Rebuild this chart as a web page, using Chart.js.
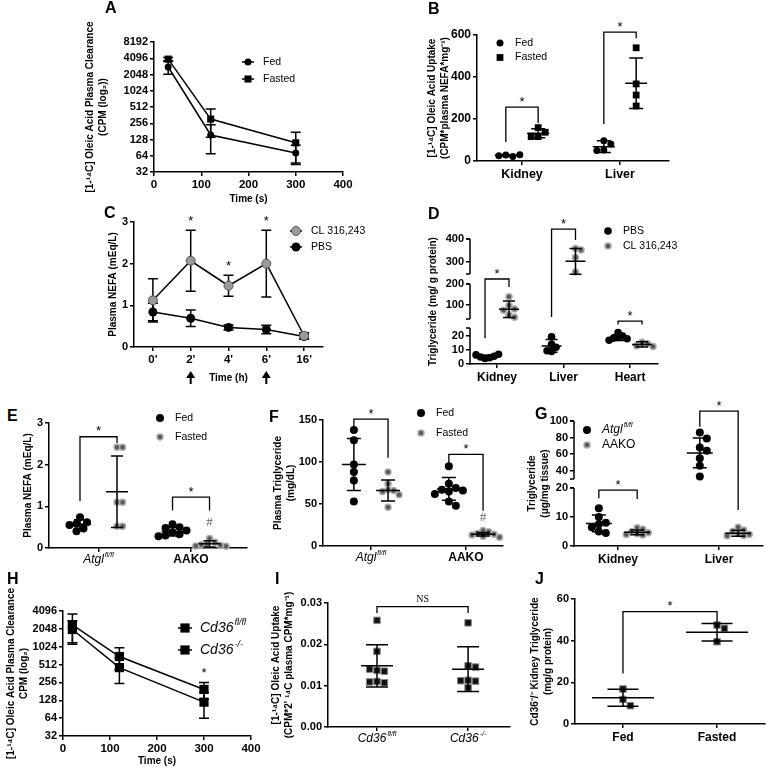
<!DOCTYPE html>
<html>
<head>
<meta charset="utf-8">
<title>Figure</title>
<script src="https://cdn.jsdelivr.net/npm/chart.js@4.4.1/dist/chart.umd.min.js"></script>
<style>
  body { margin: 0; background: #fff; }
  #fig { position: relative; width: 766px; height: 769px; overflow: hidden; }
  #fig canvas { position: absolute; }
  .letter { position: absolute; font: bold 16px/16px "Liberation Sans", Arial, sans-serif; color: #000; }
</style>
</head>
<body>
<div id="fig"></div>
<script>
const FONT = '"Liberation Sans", Arial, sans-serif';
const SERIF = '"Liberation Serif", "Times New Roman", serif';
Chart.defaults.font.family = FONT;

// ---------- A: oleic acid clearance, fed vs fasted ----------
const timeA = [30, 120, 300];
const fedA = [2820, 155, 72];
const fedA_sd = [750, 85, 28];
const fastedA = [3950, 306, 111];
const fastedA_sd = [300, 165, 64];
const log2TicksA = [32, 64, 128, 256, 512, 1024, 2048, 4096, 8192];

// ---------- B: oleic acid uptake ----------
const organsB = ['Kidney', 'Liver'];
const fedB = [[28, 22, 25, 30], [97, 81, 52, 50]];
const fedB_mean = [27, 68];
const fedB_sd = [3, 28];
const fastedB = [[159, 137, 116, 116], [539, 367, 314, 262]];
const fastedB_mean = [132, 370];
const fastedB_sd = [21, 120];
const sigB = [
  { a: [0, 0], b: [0, 1], top: 257, left: 90, right: 181 },
  { a: [1, 0], b: [1, 1], top: 614, left: 176, right: 585 }
];

// ---------- C: plasma NEFA time course ----------
const timeC = ["0'", "2'", "4'", "6'", "16'"];
const clC = [1.12, 2.07, 1.47, 2.0, 0.27];
const clC_sd = [0.52, 0.73, 0.25, 0.8, 0.07];
const pbsC = [0.84, 0.69, 0.47, 0.42, 0.25];
const pbsC_sd = [0.21, 0.2, 0.06, 0.1, 0.06];
const starsC = [1, 2, 3];
const injectionsC = [1, 3];

// ---------- D: tissue triglyceride, PBS vs CL 316,243 ----------
const organsD = ['Kidney', 'Liver', 'Heart'];
const pbsD = [[4, 4.5, 5, 5.5, 6.5, 7], [19.5, 14, 12, 9, 9.5], [22.5, 20, 19, 18.5, 18, 17]];
const pbsD_mean = [5.3, 12.9, 18.8];
const pbsD_sd = [1, 4.6, 2];
const clD = [[138, 95, 78, 72, 50, 38], [359, 352, 320, 257], [15.5, 14.5, 13, 12.5]];
const clD_mean = [77, 303, 14];
const clD_sd = [40, 56, 1.8];
const sigD = [
  { a: [0, 0], b: [0, 1], top: 224, left: 18.3, right: 185 },
  { a: [1, 0], b: [1, 1], top: 443, left: 40, right: 396 },
  { a: [2, 0], b: [2, 1], top: 29, left: 27.4, right: 27.4 }
];

// ---------- E: plasma NEFA by genotype ----------
const genoE = ['Atgl^fl/fl', 'AAKO'];
const fedE = [[0.74, 0.62, 0.58, 0.55, 0.47, 0.4], [0.57, 0.5, 0.48, 0.42, 0.38, 0.33, 0.3, 0.28]];
const fedE_mean = [0.57, 0.39];
const fedE_sd = [0.11, 0.1];
const fastedE = [[2.42, 2.42, 1.1, 1.1, 0.52, 0.52], [0.23, 0.14, 0.1, 0.08, 0.06, 0.05, 0.04]];
const fastedE_mean = [1.35, 0.1];
const fastedE_sd = [0.86, 0.075];
const sigE = [
  { a: [0, 0], b: [0, 1], top: 2.67, left: 1.13, right: 2.52 },
  { a: [1, 0], b: [1, 1], top: 1.22, left: 0.9, right: 0.9 }
];
const hashE = [{ cat: 1, series: 1, y: 0.6, text: '#' }];

// ---------- F: plasma triglyceride by genotype ----------
const genoF = ['Atgl^fl/fl', 'AAKO'];
const fedF = [[138, 126, 97, 88, 78, 53], [95, 74, 69, 67, 66, 65, 62, 53, 48]];
const fedF_mean = [97, 68];
const fedF_sd = [31, 13.5];
const fastedF = [[88, 74, 67, 66, 65, 61, 46], [18.5, 17, 15, 14, 13, 11.5, 10.5]];
const fastedF_mean = [66, 14];
const fastedF_sd = [12.5, 2];
const sigF = [
  { a: [0, 0], b: [0, 1], top: 151, left: 142, right: 105 },
  { a: [1, 0], b: [1, 1], top: 109, left: 98, right: 42 }
];
const hashF = [{ cat: 1, series: 1, y: 34, text: '#' }];

// ---------- G: tissue triglyceride by genotype ----------
const organsG = ['Kidney', 'Liver'];
const atglG = [[13, 10, 8, 7.5, 6.5, 5, 4.5], [86, 79, 68, 64, 55, 46, 33]];
const atglG_mean = [7.8, 61.5];
const atglG_sd = [2.9, 18];
const aakoG = [[6.3, 5.8, 5, 4.6, 4.2, 4, 3.8], [6.5, 5.5, 5, 4.3, 4, 3.6, 3.5]];
const aakoG_mean = [4.7, 4.4];
const aakoG_sd = [0.8, 1];
const sigG = [
  { a: [0, 0], b: [0, 1], top: 19.3, left: 16.5, right: 16.2 },
  { a: [1, 0], b: [1, 1], top: 112, left: 93, right: 12.4 }
];

// ---------- H: clearance by Cd36 genotype ----------
const timeH = [20, 120, 300];
const flH = [2390, 700, 195];
const flH_sd = [1260, 280, 61];
const koH = [2000, 455, 119];
const koH_sd = [810, 210, 55];
const log2TicksH = [32, 64, 128, 256, 512, 1024, 2048, 4096];

// ---------- I: uptake by Cd36 genotype ----------
const genoI = ['Cd36^fl/fl', 'Cd36^-/-'];
const uptakeI = [[0.0258, 0.0183, 0.0137, 0.0135, 0.014, 0.011, 0.0107, 0.0109],
                 [0.0252, 0.0148, 0.0145, 0.0113, 0.0111, 0.0112, 0.0095]];
const uptakeI_mean = [0.0148, 0.014];
const uptakeI_sd = [0.0051, 0.0054];
const sigI = [{ a: [0, 0], b: [1, 0], top: 0.0291, left: 0.0276, right: 0.0276, text: 'NS' }];

// ---------- J: Cd36-/- kidney triglyceride ----------
const groupsJ = ['Fed', 'Fasted'];
const tgJ = [[16.8, 11.8, 8.8], [47.5, 45.9, 39.5]];
const tgJ_mean = [12.6, 44];
const tgJ_sd = [4.1, 4.2];
const sigJ = [{ a: [0, 0], b: [1, 0], top: 53.9, left: 24.3, right: 49 }];

// ---------- marker styles ----------
const blackDot = { pointStyle: 'circle', pointBackgroundColor: '#000', pointBorderColor: '#000', pointBorderWidth: 0 };
const grayDot = { pointStyle: 'circle', pointBackgroundColor: '#5a5a5a', pointBorderColor: '#adadad', pointBorderWidth: 1.5 };
const blackSq = { pointStyle: 'rect', pointBackgroundColor: '#000', pointBorderColor: '#000', pointBorderWidth: 0 };
const softSq = { pointStyle: 'rect', pointBackgroundColor: '#111', pointBorderColor: '#8a8a8a', pointBorderWidth: 1 };

// ---------- a broken linear axis (piecewise mapping) ----------
class BrokenScale extends Chart.LinearScale {
  static id = 'broken';
  static defaults = {};
  _brk(v) {
    const bv = this.options.breakVals, bf = this.options.breakFracs;
    let i = 1;
    while (i < bv.length - 1 && v > bv[i]) i++;
    return bf[i - 1] + (v - bv[i - 1]) / (bv[i] - bv[i - 1]) * (bf[i] - bf[i - 1]);
  }
  getPixelForValue(v) { return this.getPixelForDecimal(this._brk(v)); }
}
Chart.register(BrokenScale);

const fig = document.getElementById('fig');
const extras = {};

function drawRich(ctx, label, x, y, o) {
  const parts = String(label).split('^');
  const it = parts.length > 1 ? 'italic ' : '';
  const wt = parts.length > 1 ? 'normal' : (o.weight || 'normal');
  const big = `${it}${wt} ${o.size}px ${FONT}`;
  const small = `${it}${wt} ${Math.round(o.size * 0.62)}px ${FONT}`;
  ctx.save();
  ctx.fillStyle = '#000'; ctx.textBaseline = 'middle'; ctx.textAlign = 'left';
  ctx.font = big; const w1 = ctx.measureText(parts[0]).width;
  ctx.font = small; const w2 = parts[1] ? ctx.measureText(parts[1]).width + 1 : 0;
  const x0 = o.align === 'left' ? x : x - (w1 + w2) / 2;
  ctx.font = big; ctx.fillText(parts[0], x0, y);
  if (parts[1]) { ctx.font = small; ctx.fillText(parts[1], x0 + w1 + 1, y - o.size * 0.4); }
  ctx.restore();
}

const figPlugin = {
  id: 'figExtras',
  beforeDatasetsDraw(chart) {
    const ex = extras[chart.canvas.id];
    if (!ex || !ex.bars) return;
    const ctx = chart.ctx, xs = chart.scales.x, ys = chart.scales.y;
    const floor = chart.chartArea.bottom;
    ctx.save(); ctx.strokeStyle = '#000'; ctx.lineWidth = 1.5;
    ex.bars.forEach(b => b.x.forEach((xv, i) => {
      const px = xs.getPixelForValue(xv);
      const hi = ys.getPixelForValue(b.m[i] + b.sd[i]);
      let lo = b.m[i] - b.sd[i] > 0 ? ys.getPixelForValue(b.m[i] - b.sd[i]) : floor;
      if (!isFinite(lo)) lo = floor;
      lo = Math.min(lo, floor);
      ctx.beginPath();
      ctx.moveTo(px, hi); ctx.lineTo(px, lo);
      ctx.moveTo(px - 5, hi); ctx.lineTo(px + 5, hi);
      ctx.moveTo(px - 5, lo); ctx.lineTo(px + 5, lo);
      ctx.stroke();
    }));
    ctx.restore();
  },
  afterDatasetsDraw(chart) {
    const ex = extras[chart.canvas.id];
    if (!ex || !ex.msd) return;
    const ctx = chart.ctx, xs = chart.scales.x, ys = chart.scales.y;
    ctx.save(); ctx.strokeStyle = '#000'; ctx.lineWidth = 1.5;
    ex.msd.forEach(g => {
      const px = xs.getPixelForValue(g.x), ym = ys.getPixelForValue(g.m);
      const yh = ys.getPixelForValue(g.m + g.sd), yl = ys.getPixelForValue(Math.max(g.m - g.sd, 0));
      ctx.beginPath();
      ctx.moveTo(px, yh); ctx.lineTo(px, yl);
      ctx.moveTo(px - g.mw, ym); ctx.lineTo(px + g.mw, ym);
      ctx.moveTo(px - g.cw, yh); ctx.lineTo(px + g.cw, yh);
      ctx.moveTo(px - g.cw, yl); ctx.lineTo(px + g.cw, yl);
      ctx.stroke();
    });
    ctx.restore();
  },
  afterDraw(chart) {
    const ex = extras[chart.canvas.id];
    if (!ex) return;
    const ctx = chart.ctx, xs = chart.scales.x, ys = chart.scales.y, area = chart.chartArea;
    const X = v => xs.getPixelForValue(v), Y = v => ys.getPixelForValue(v);
    ctx.save();
    ctx.strokeStyle = '#000'; ctx.fillStyle = '#000'; ctx.lineWidth = 1.3;
    // broken y axis
    if (ex.segments) {
      ctx.lineWidth = 1.5;
      ex.segments.forEach(([a, b]) => {
        const ya = Y(a), yb = Y(b);
        ctx.beginPath();
        ctx.moveTo(area.left, ya + (a === ys.min ? 0.75 : 0)); ctx.lineTo(area.left, yb);
        ctx.moveTo(area.left - 4, yb); ctx.lineTo(area.left, yb);
        if (a > ys.min) { ctx.moveTo(area.left - 4, ya); ctx.lineTo(area.left, ya); }
        ctx.stroke();
      });
      ctx.lineWidth = 1.3;
    }
    // significance brackets
    (ex.sig || []).forEach(s => {
      const x1 = X(s.x1), x2 = X(s.x2), yt = Y(s.top);
      ctx.beginPath();
      ctx.moveTo(x1, Y(s.left)); ctx.lineTo(x1, yt); ctx.lineTo(x2, yt); ctx.lineTo(x2, Y(s.right));
      ctx.stroke();
      ctx.textAlign = 'center'; ctx.textBaseline = 'middle';
      if (s.text) { ctx.font = `10px ${SERIF}`; ctx.fillText(s.text, (x1 + x2) / 2, yt - 7); }
      else { ctx.font = `13px ${FONT}`; ctx.fillText('*', (x1 + x2) / 2, yt - 5); }
    });
    // stars over error bars
    (ex.stars || []).forEach(s => {
      ctx.font = `13px ${FONT}`; ctx.textAlign = 'center'; ctx.textBaseline = 'middle';
      ctx.fillText('*', X(s.x), Y(s.y) - 9);
    });
    // '#' marks
    (ex.marks || []).forEach(m => {
      ctx.save(); ctx.fillStyle = '#666'; ctx.font = `13px ${SERIF}`;
      ctx.textAlign = 'center'; ctx.textBaseline = 'middle';
      ctx.fillText(m.text, X(m.x), Y(m.y)); ctx.restore();
    });
    // injection arrows
    (ex.arrows || []).forEach(i => {
      const px = X(i), y0 = area.bottom + 24, y1 = area.bottom + 37;
      ctx.beginPath(); ctx.moveTo(px, y0); ctx.lineTo(px - 4.5, y0 + 7); ctx.lineTo(px + 4.5, y0 + 7); ctx.closePath(); ctx.fill();
      ctx.lineWidth = 2; ctx.beginPath(); ctx.moveTo(px, y0 + 6); ctx.lineTo(px, y1); ctx.stroke(); ctx.lineWidth = 1.3;
    });
    // rich category labels
    if (ex.richX) ex.richX.forEach((lab, i) => drawRich(ctx, lab, X(i + 1), xs.top + 12, { size: 12, weight: 'bold' }));
    // legend
    if (ex.legend) {
      const L = ex.legend; let k = 0;
      chart.data.datasets.forEach(d => {
        if (!d.inLegend) return;
        const x = L.x - ex.bx, y = L.y + k * L.dy - ex.by; k++;
        ctx.save();
        if (L.line) { ctx.strokeStyle = '#000'; ctx.lineWidth = 1.5; ctx.beginPath(); ctx.moveTo(x - L.line, y); ctx.lineTo(x + L.line, y); ctx.stroke(); }
        ctx.fillStyle = d.pointBackgroundColor; ctx.strokeStyle = d.pointBorderColor; ctx.lineWidth = d.pointBorderWidth;
        Chart.helpers.drawPoint(ctx, { pointStyle: d.pointStyle, radius: d.pointRadius, borderWidth: d.pointBorderWidth }, x, y);
        ctx.restore();
        drawRich(ctx, d.label, L.tx - ex.bx, y, { size: L.size || 10.5, weight: 'normal', align: 'left' });
      });
    }
    ctx.restore();
  }
};
Chart.register(figPlugin);

function letter(ch, x, y) {
  const d = document.createElement('div');
  d.className = 'letter'; d.textContent = ch;
  d.style.left = x + 'px'; d.style.top = y + 'px';
  fig.appendChild(d);
}

function panel(id, P) {
  const cv = document.createElement('canvas');
  cv.id = id;
  const [bx, by, bw, bh] = P.box;
  cv.width = bw; cv.height = bh;
  cv.style.left = bx + 'px'; cv.style.top = by + 'px';
  fig.appendChild(cv);
  const [l, t, r, b] = P.plot;
  extras[id] = Object.assign({ bx, by }, P.ex || {});
  const lh = 10 * 1.3;
  const yo = P.y, xo = P.x;
  const titleFont = { family: FONT, size: 10, weight: 'bold', lineHeight: 1.3 };
  const yScale = {
    type: yo.type || 'linear', position: 'left', min: yo.min, max: yo.max,
    breakVals: yo.breakVals, breakFracs: yo.breakFracs,
    border: { display: !yo.breakVals, color: '#000', width: 1.5 },
    grid: { drawOnChartArea: false, tickLength: 4, color: '#000', lineWidth: 1.5 },
    ticks: { color: '#000', font: { family: FONT, size: yo.size || 11, weight: 'bold' }, padding: 2, autoSkip: false, callback: yo.fmt || (v => String(v)) },
    afterBuildTicks: s => { s.ticks = yo.ticks.map(v => ({ value: v })); },
    afterFit: s => { s.width = l - bx; },
    title: { display: true, text: yo.title, color: '#000', font: titleFont, padding: { top: yo.titleX - bx - lh / 2, bottom: 0 } }
  };
  const xScale = {
    type: 'linear', position: 'bottom', min: xo.min, max: xo.max,
    border: { color: '#000', width: 1.5 },
    grid: { drawOnChartArea: false, tickLength: 4, color: '#000', lineWidth: 1.5 },
    ticks: { color: '#000', font: { family: FONT, size: xo.size || 11, weight: 'bold' }, padding: 2, maxRotation: 0, autoSkip: false, callback: xo.fmt || (v => String(v)) },
    afterBuildTicks: s => { s.ticks = xo.ticks.map(v => ({ value: v })); },
    afterFit: s => { s.height = by + bh - b; },
    title: xo.title
      ? { display: true, text: xo.title, color: '#000', font: titleFont, padding: { top: 0, bottom: by + bh - xo.titleY - lh / 2 } }
      : { display: false }
  };
  return new Chart(cv, {
    type: 'scatter',
    data: { datasets: P.datasets },
    options: {
      responsive: false, animation: false, devicePixelRatio: 1, events: [],
      layout: { autoPadding: false, padding: { left: 0, top: t - by, right: bx + bw - r, bottom: 0 } },
      plugins: { legend: { display: false }, tooltip: { enabled: false } },
      scales: { x: xScale, y: yScale }
    }
  });
}

// spread points of one group sideways so they do not overlap (beeswarm)
function spread(chart) {
  const xs = chart.scales.x, ys = chart.scales.y;
  const ppu = xs.getPixelForValue(1) - xs.getPixelForValue(0);
  chart.data.datasets.forEach(d => {
    if (!d.vals) return;
    const g = d.gap, placed = [];
    d.data = d.vals.map(v => {
      const py = ys.getPixelForValue(v);
      let off = 0;
      for (let k = 0; k < 40; k++) {
        const c = (k % 2 ? 1 : -1) * Math.ceil(k / 2) * g / 2;
        if (placed.every(p => (p.x - c) ** 2 + (p.y - py) ** 2 >= g * g)) { off = c; break; }
      }
      placed.push({ x: off, y: py });
      return { x: d.center + off / ppu, y: v };
    });
  });
  chart.update('none');
}

function dotPanel(id, P) {
  const datasets = [], msd = [];
  const nS = P.series.length;
  const gx = (ci, si) => ci + 1 + (nS === 1 ? 0 : (si === 0 ? -P.off : P.off));
  P.series.forEach((s, si) => {
    s.vals.forEach((vals, ci) => {
      const cx = gx(ci, si);
      datasets.push(Object.assign({
        label: s.label, inLegend: ci === 0 && !!P.legend, center: cx, vals, gap: s.gap, clip: false,
        pointRadius: s.r, data: vals.map(v => ({ x: cx, y: v }))
      }, s.style));
      msd.push({ x: cx, m: s.mean[ci], sd: s.sd[ci], mw: P.mw, cw: P.cw });
    });
  });
  const sig = (P.sig || []).map(b => ({ x1: gx(b.a[0], b.a[1]), x2: gx(b.b[0], b.b[1]), top: b.top, left: b.left, right: b.right, text: b.text }));
  const marks = (P.marks || []).map(m => ({ x: gx(m.cat, m.series), y: m.y, text: m.text }));
  const rich = P.cats.some(c => c.includes('^'));
  const chart = panel(id, {
    box: P.box, plot: P.plot, y: P.y,
    x: { min: P.xmin, max: P.xmax, ticks: P.cats.map((c, i) => i + 1), size: P.xsize || 12,
         fmt: v => rich ? '' : P.cats[Math.round(v) - 1] },
    datasets,
    ex: { msd, sig, marks, legend: P.legend, richX: rich ? P.cats : null, segments: P.segments }
  });
  spread(chart);
  return chart;
}

function lineSet(label, xs, ys, style, r) {
  return Object.assign({ label, inLegend: true, data: xs.map((x, i) => ({ x, y: ys[i] })), showLine: true,
    borderColor: '#000', borderWidth: 1.5, pointRadius: r, clip: false }, style);
}

// ---------- panels ----------
panel('chartA', {
  box: [80, 5, 290, 203], plot: [154, 42, 343, 172],
  y: { type: 'logarithmic', min: 32, max: 8192, ticks: log2TicksA, titleX: 90,
       title: ['[1-\u00b9\u2074C] Oleic Acid Plasma Clearance', '(CPM (log\u2082))'] },
  x: { min: 0, max: 400, ticks: [0, 100, 200, 300, 400], title: 'Time (s)', titleY: 199, size: 11.5 },
  datasets: [lineSet('Fed', timeA, fedA, blackDot, 3.5), lineSet('Fasted', timeA, fastedA, blackSq, 5)],
  ex: { bars: [{ x: timeA, m: fedA, sd: fedA_sd }, { x: timeA, m: fastedA, sd: fastedA_sd }],
        legend: { x: 248, y: 62, dy: 17, tx: 263, line: 6 } }
});

dotPanel('chartB', {
  box: [422, 0, 344, 190], plot: [477, 35, 669, 161], xmin: 0.541, xmax: 2.5, off: 0.165,
  cats: organsB, mw: 11, cw: 7, xsize: 12.5,
  y: { min: 0, max: 600, ticks: [0, 200, 400, 600], titleX: 432, size: 12,
       title: ['[1-\u00b9\u2074C] Oleic Acid Uptake', '(CPM*plasma NEFA*mg\u207b\u00b9)'] },
  series: [
    { label: 'Fed', vals: fedB, mean: fedB_mean, sd: fedB_sd, style: blackDot, r: 3.5, gap: 7 },
    { label: 'Fasted', vals: fastedB, mean: fastedB_mean, sd: fastedB_sd, style: blackSq, r: 4.8, gap: 7 }
  ],
  sig: sigB,
  legend: { x: 500, y: 43, dy: 14.5, tx: 515 }
});

panel('chartC', {
  box: [100, 200, 265, 187], plot: [134, 222, 323, 347],
  y: { min: 0, max: 3, ticks: [0, 1, 2, 3], titleX: 113, title: 'Plasma NEFA (mEq/L)' },
  x: { min: -0.5, max: 4.5, ticks: [0, 1, 2, 3, 4], fmt: v => timeC[v], title: 'Time (h)', titleY: 378, size: 11.5 },
  datasets: [
    lineSet('CL 316,243', [0, 1, 2, 3, 4], clC, { pointStyle: 'circle', pointBackgroundColor: '#9a9a9a', pointBorderColor: '#555', pointBorderWidth: 1 }, 4.5),
    lineSet('PBS', [0, 1, 2, 3, 4], pbsC, blackDot, 4.5)
  ],
  ex: { bars: [{ x: [0, 1, 2, 3, 4], m: clC, sd: clC_sd }, { x: [0, 1, 2, 3, 4], m: pbsC, sd: pbsC_sd }],
        stars: starsC.map(i => ({ x: i, y: clC[i] + clC_sd[i] })),
        arrows: injectionsC,
        legend: { x: 296, y: 231, dy: 16, tx: 311, line: 6 } }
});

dotPanel('chartD', {
  box: [422, 200, 344, 190], plot: [470, 239, 658, 364], xmin: 0.594, xmax: 3.42, off: 0.18,
  cats: organsD, mw: 10, cw: 6,
  y: { type: 'broken', min: 0, max: 400, ticks: [0, 10, 20, 100, 200, 300, 400], titleX: 433,
       breakVals: [0, 25.7, 30, 200, 248, 400], breakFracs: [0, 0.288, 0.36, 0.64, 0.72, 1],
       title: 'Triglyceride (mg/ g protein)' },
  segments: [[0, 25.7], [30, 200], [248, 400]],
  series: [
    { label: 'PBS', vals: pbsD, mean: pbsD_mean, sd: pbsD_sd, style: blackDot, r: 3.8, gap: 4.5 },
    { label: 'CL 316,243', vals: clD, mean: clD_mean, sd: clD_sd, style: grayDot, r: 3, gap: 5.5 }
  ],
  sig: sigD,
  legend: { x: 608, y: 231, dy: 15, tx: 623 }
});

dotPanel('chartE', {
  box: [18, 400, 242, 172], plot: [49, 423, 247, 548], xmin: 0.465, xmax: 2.605, off: 0.2,
  cats: genoE, mw: 11, cw: 6,
  y: { min: 0, max: 3, ticks: [0, 1, 2, 3], titleX: 28, title: 'Plasma NEFA (mEq/L)' },
  series: [
    { label: 'Fed', vals: fedE, mean: fedE_mean, sd: fedE_sd, style: blackDot, r: 4, gap: 7 },
    { label: 'Fasted', vals: fastedE, mean: fastedE_mean, sd: fastedE_sd, style: grayDot, r: 3, gap: 5.5 }
  ],
  sig: sigE, marks: hashE,
  legend: { x: 160, y: 418, dy: 19, tx: 175 }
});

dotPanel('chartF', {
  box: [268, 400, 242, 172], plot: [323, 420, 503, 546], xmin: 0.495, xmax: 2.39, off: 0.18,
  cats: genoF, mw: 12, cw: 7,
  y: { min: 0, max: 150, ticks: [0, 50, 100, 150], titleX: 278, title: ['Plasma Triglyceride', '(mg/dL)'] },
  series: [
    { label: 'Fed', vals: fedF, mean: fedF_mean, sd: fedF_sd, style: blackDot, r: 4, gap: 7 },
    { label: 'Fasted', vals: fastedF, mean: fastedF_mean, sd: fastedF_sd, style: grayDot, r: 3, gap: 5.5 }
  ],
  sig: sigF, marks: hashF,
  legend: { x: 421, y: 413, dy: 20, tx: 436 }
});

dotPanel('chartG', {
  box: [522, 400, 244, 172], plot: [574, 421, 763, 546], xmin: 0.564, xmax: 2.436, off: 0.19,
  cats: organsG, mw: 13, cw: 7,
  y: { type: 'broken', min: 0, max: 100, ticks: [0, 10, 20, 40, 60, 80, 100], titleX: 532,
       breakVals: [0, 20, 30, 100], breakFracs: [0, 0.464, 0.536, 1],
       title: ['Triglyceride', '(\u03bcg/mg tissue)'] },
  segments: [[0, 20], [30, 100]],
  series: [
    { label: 'Atgl^fl/fl', vals: atglG, mean: atglG_mean, sd: atglG_sd, style: blackDot, r: 4, gap: 7 },
    { label: 'AAKO', vals: aakoG, mean: aakoG_mean, sd: aakoG_sd, style: grayDot, r: 3, gap: 5.5 }
  ],
  sig: sigG,
  legend: { x: 587, y: 430, dy: 15, tx: 602, size: 12 }
});

panel('chartH', {
  box: [1, 575, 269, 194], plot: [63, 611, 251, 736],
  y: { type: 'logarithmic', min: 32, max: 4096, ticks: log2TicksH, titleX: 11,
       title: ['[1-\u00b9\u2074C] Oleic Acid Plasma Clearance', 'CPM (log\u2082)'] },
  x: { min: 0, max: 400, ticks: [0, 100, 200, 300, 400], title: 'Time (s)', titleY: 761, size: 11.5 },
  datasets: [lineSet('Cd36^fl/fl', timeH, flH, blackSq, 6.5), lineSet('Cd36^-/-', timeH, koH, blackSq, 6.5)],
  ex: { bars: [{ x: timeH, m: flH, sd: flH_sd }, { x: timeH, m: koH, sd: koH_sd }],
        stars: [{ x: timeH[2], y: flH[2] + flH_sd[2] }],
        legend: { x: 185, y: 628, dy: 22, tx: 200, line: 7, size: 14 } }
});

dotPanel('chartI', {
  box: [267, 578, 253, 187], plot: [328, 603, 510, 727], xmin: 0.462, xmax: 2.46, off: 0,
  cats: genoI, mw: 16, cw: 11,
  y: { min: 0, max: 0.03, ticks: [0, 0.01, 0.02, 0.03], fmt: v => v.toFixed(2), titleX: 276,
       title: ['[1-\u00b9\u2074C] Oleic Acid Uptake', "(CPM*2' \u00b9\u2074C plasma CPM*mg\u207b\u00b9)"] },
  series: [{ label: 'Uptake', vals: uptakeI, mean: uptakeI_mean, sd: uptakeI_sd, style: softSq, r: 4.6, gap: 7.4 }],
  sig: sigI
});

dotPanel('chartJ', {
  box: [525, 578, 241, 187], plot: [575, 599, 765, 724], xmin: 0.49, xmax: 2.51, off: 0,
  cats: groupsJ, mw: 31, cw: 15.5,
  y: { min: 0, max: 60, ticks: [0, 20, 40, 60], titleX: 535,
       title: ['Cd36\u207b/\u207b Kidney Triglyceride', '(mg/g protein)'] },
  series: [{ label: 'TG', vals: tgJ, mean: tgJ_mean, sd: tgJ_sd, style: softSq, r: 4.6, gap: 7.4 }],
  sig: sigJ
});

[['A', 105, 0], ['B', 428, 1], ['C', 104, 205], ['D', 428, 206], ['E', 7, 408],
 ['F', 269, 409], ['G', 535, 406], ['H', 7, 571], ['I', 275, 571], ['J', 535, 571]]
  .forEach(([c, x, y]) => letter(c, x, y));
</script>
</body>
</html>
